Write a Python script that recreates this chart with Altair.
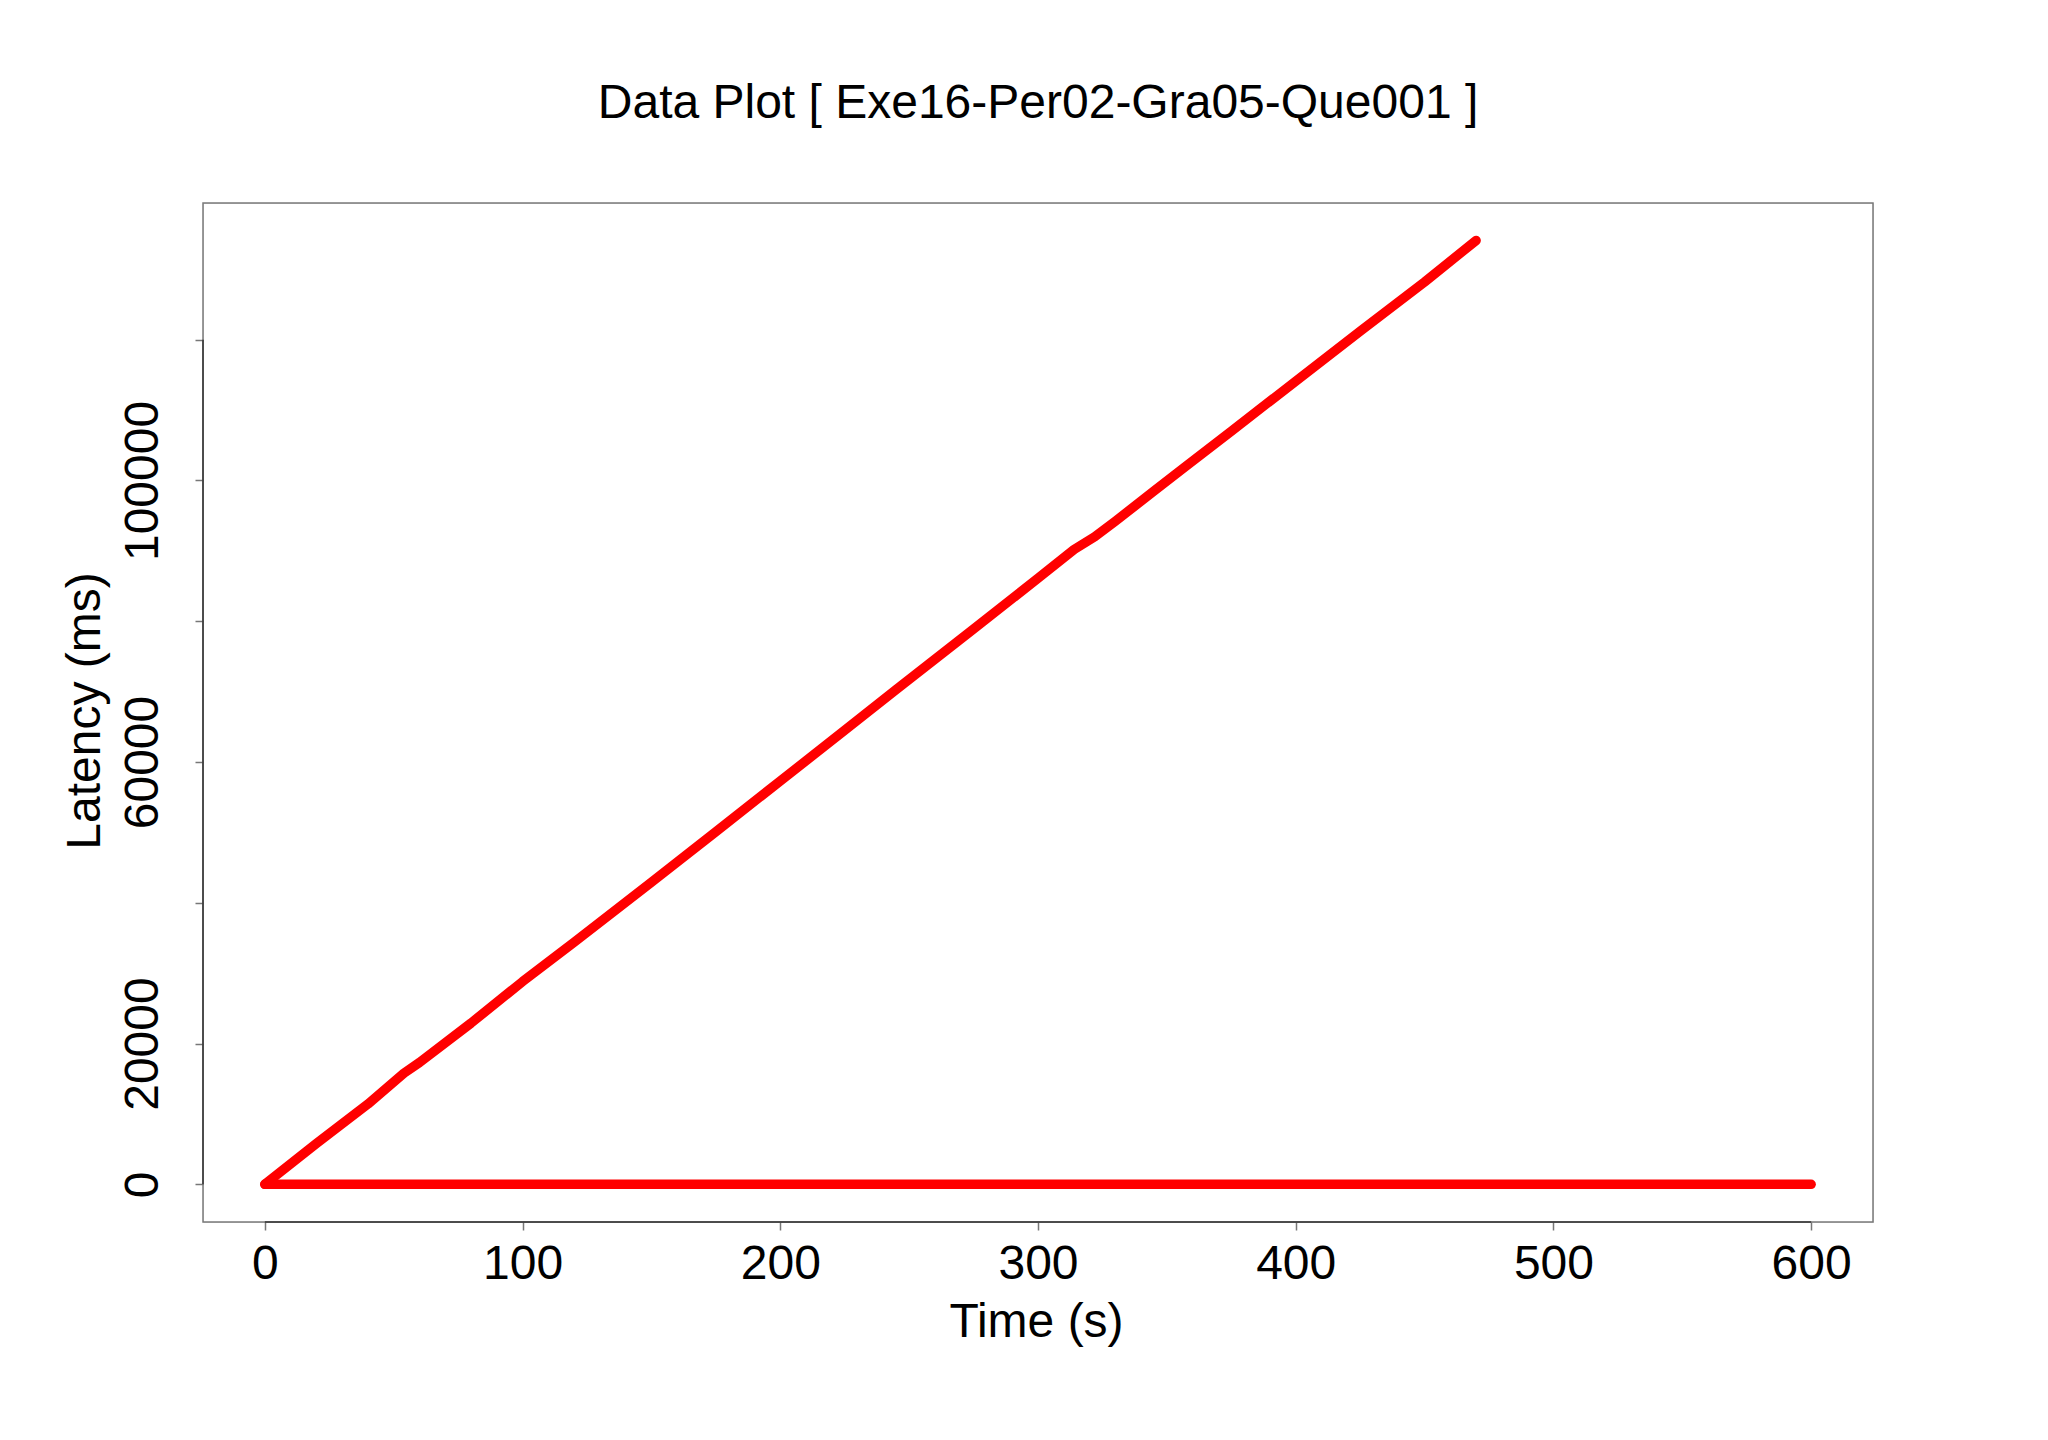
import altair as alt
import pandas as pd

title_text = "Data Plot [ Exe16-Per02-Gra05-Que001 ]"

# diagonal series (time in s, latency in ms)
rise_time = [0, 20, 40, 54, 60, 80, 100, 120, 150, 175, 200, 225, 245, 275, 300,
             314, 322, 330, 345, 357, 375, 400, 425, 450, 470]
rise_latency = [0, 5800, 11400, 15800, 17300, 22900, 28800, 34400, 42900, 50100,
                57300, 64500, 70300, 78900, 86100, 90200, 92000, 94200, 98500,
                101900, 107000, 114100, 121200, 128200, 134100]

# flat series at zero latency
flat_time = [0, 600]
flat_latency = [0, 0]

x_ticks = [0, 100, 200, 300, 400, 500, 600]
y_ticks = [0, 20000, 40000, 60000, 80000, 100000, 120000]

W, H = 1670, 1019
FONT = "Liberation Sans"

df = pd.DataFrame({
    "time": rise_time + flat_time,
    "latency": rise_latency + flat_latency,
    "series": ["rise"] * len(rise_time) + ["flat"] * len(flat_time),
    "order": list(range(len(rise_time))) + list(range(len(flat_time))),
})

xscale = alt.Scale(domain=[-24, 624], nice=False, zero=False)
yscale = alt.Scale(domain=[-5356, 139420], nice=False, zero=False)

xaxis = alt.Axis(values=x_ticks, domain=False, grid=False, tickColor="#777",
                 tickSize=8, tickWidth=1.5, labelFont=FONT, labelFontSize=48,
                 labelColor="black", labelBaseline="alphabetic", labelPadding=48,
                 labelFlush=False, labelOverlap=False, labelBound=False,
                 title="Time (s)", titleFont=FONT, titleFontSize=48,
                 titleFontWeight="normal", titleColor="black",
                 titleX=W / 2 - 2, titleY=114, titleBaseline="alphabetic",
                 titleAlign="center")

yaxis = alt.Axis(values=y_ticks, domain=False, grid=False, tickColor="#777",
                 tickSize=8, tickWidth=1.5, labelFont=FONT, labelFontSize=48,
                 labelColor="black", labelAngle=270, labelAlign="center",
                 labelBaseline="alphabetic", labelPadding=38, format="d",
                 labelFlush=False, labelOverlap=False, labelBound=False,
                 labelExpr="datum.value == 0 || (datum.value - 20000) % 40000 == 0 ? datum.label : ''",
                 title="Latency (ms)", titleFont=FONT, titleFontSize=48,
                 titleFontWeight="normal", titleColor="black", titleAngle=270,
                 titleX=-104, titleY=H / 2 - 2, titleBaseline="alphabetic",
                 titleAlign="center")

lines = alt.Chart(df).mark_line(color="#ff0000", strokeWidth=9.5, strokeCap="round",
                                strokeJoin="round").encode(
    x=alt.X("time:Q", scale=xscale, axis=xaxis),
    y=alt.Y("latency:Q", scale=yscale, axis=yaxis),
    detail="series:N",
    order="order:Q",
)

box = alt.Chart(pd.DataFrame({"k": [0]})).mark_rect(
    filled=False, stroke="#7a7a7a", strokeWidth=1.5, fill="transparent"
).encode(x=alt.value(0), x2=alt.value(W), y=alt.value(0), y2=alt.value(H))

xline_df = pd.DataFrame({"x": [x_ticks[0]], "x2": [x_ticks[-1]]})
xline = alt.Chart(xline_df).mark_rule(color="#333", strokeWidth=1.5).encode(
    x=alt.X("x:Q", scale=xscale), x2="x2:Q", y=alt.value(H)
)
yline_df = pd.DataFrame({"y": [y_ticks[0]], "y2": [y_ticks[-1]]})
yline = alt.Chart(yline_df).mark_rule(color="#333", strokeWidth=1.5).encode(
    y=alt.Y("y:Q", scale=yscale), y2="y2:Q", x=alt.value(0)
)

chart = alt.layer(box, xline, yline, lines).properties(
    width=W, height=H,
    title=alt.TitleParams(title_text, font=FONT, fontSize=48, fontWeight="normal",
                          color="black", anchor="middle", frame="group",
                          baseline="alphabetic", offset=36),
    autosize=alt.AutoSizeParams(type="none"),
    padding={"left": 195, "top": 195, "right": 160, "bottom": 200},
).configure_view(strokeOpacity=0).configure(background="white")

chart.save("out.html", embed_options={"renderer": "svg", "actions": False})
